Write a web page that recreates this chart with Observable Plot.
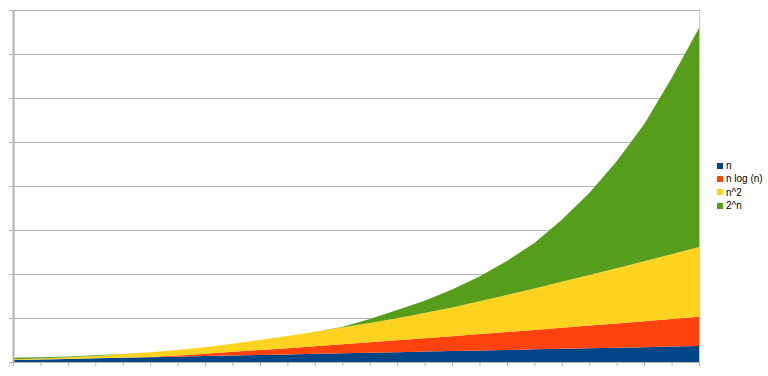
<!DOCTYPE html>
<html>
<head>
<meta charset="utf-8">
<script src="https://cdn.jsdelivr.net/npm/d3@7"></script>
<script src="https://cdn.jsdelivr.net/npm/@observablehq/plot@0.6"></script>
<style>
  html, body { margin: 0; padding: 0; background: #fff; }
  #wrap { position: relative; width: 768px; height: 376px; overflow: hidden; }
  #legend { position: absolute; left: 717px; top: 159px; font-family: "Liberation Sans", Arial, sans-serif; font-size: 10px; color: #000; }
  .item { height: 13.3px; line-height: 13.3px; white-space: nowrap; display: flex; align-items: center; }
  .sw { width: 6px; height: 6px; margin-right: 3px; display: inline-block; }
</style>
</head>
<body>
<div id="wrap"><div id="legend"></div></div>
<script>
// x categories (index of each data point)
const xIndex = d3.range(26);
const seriesNames = ["n", "n log (n)", "n^2", "2^n"];
const seriesColors = ["#004586", "#ff420e", "#ffd320", "#579d1c"];
// values (gridline step = 100)
const valN = [4.5, 5.8, 7.1, 8.4, 9.6, 10.9, 12.2, 13.5, 14.7, 16.0, 17.3, 18.5, 19.8, 21.1, 22.4, 23.6, 24.9, 26.2, 27.5, 28.7, 30.0, 31.3, 32.5, 33.8, 35.1, 36.4];
const valNLogN = [0, 0, 0, 0, 0, 0.7, 2.5, 5.2, 8.4, 11.4, 14.1, 17.3, 20.5, 23.6, 27.0, 30.5, 33.9, 37.3, 40.7, 44.3, 48.0, 51.6, 55.2, 58.9, 62.7, 66.6];
const valN2 = [1.6, 2.4, 3.6, 5.5, 7.9, 10.7, 12.6, 15.0, 18.2, 22.6, 27.7, 32.8, 38.1, 43.9, 50.1, 57.3, 65.3, 74.3, 84.1, 94.0, 104.3, 114.9, 125.4, 136.4, 147.2, 158.4];
const val2N = [3.4, 2.7, 2.0, 1.4, 0.7, 0, 0, 0, 0, 0, 0, 0, 1.1, 9.1, 18.5, 28.0, 40.5, 56.8, 77.3, 103.4, 140.9, 186.4, 243.2, 311.4, 400.0, 497.7];
const yGrid = [0, 100, 200, 300, 400, 500, 600, 700, 800];

const seriesValues = [valN, valNLogN, valN2, val2N];
const data = [];
seriesNames.forEach((s, k) => {
  xIndex.forEach((i, j) => data.push({ i, series: s, value: seriesValues[k][j] }));
});

const chart = Plot.plot({
  width: 768,
  height: 376,
  marginLeft: 13,
  marginRight: 69,
  marginTop: 10,
  marginBottom: 14,
  style: { background: "#fff", overflow: "visible" },
  x: { domain: [0, 25], axis: null, label: null },
  y: { domain: [0, 800], axis: null, label: null },
  color: { domain: seriesNames, range: seriesColors },
  marks: [
    Plot.ruleY(yGrid.slice(1), { stroke: "#b3b3b3", strokeWidth: 1, insetLeft: -4 }),
    Plot.areaY(data, { x: "i", y: "value", fill: "series", z: "series" }),
    Plot.ruleX([0], { stroke: "#b3b3b3", strokeWidth: 2 }),
    Plot.ruleX([25], { stroke: "#c8c8c8", strokeWidth: 1 }),
    Plot.ruleY([0], { stroke: "#b3b3b3", strokeWidth: 1, insetLeft: -4 }),
    Plot.axisX({ ticks: xIndex, tickSize: 4, tickFormat: () => "", stroke: "#b3b3b3", tickPadding: 0, label: null })
  ]
});
const wrap = document.getElementById("wrap");
wrap.insertBefore(chart, wrap.firstChild);

const legend = document.getElementById("legend");
seriesNames.forEach((s, k) => {
  const it = document.createElement("div");
  it.className = "item";
  const sw = document.createElement("span");
  sw.className = "sw";
  sw.style.background = seriesColors[k];
  const t = document.createElement("span");
  t.textContent = s;
  it.appendChild(sw);
  it.appendChild(t);
  legend.appendChild(it);
});
</script>
</body>
</html>
